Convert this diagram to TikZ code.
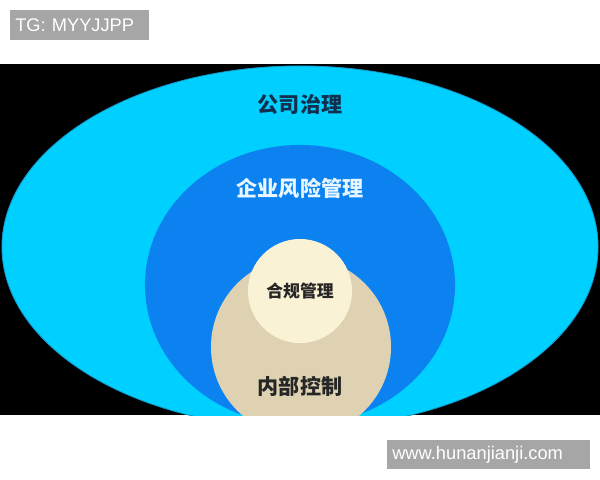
\documentclass[tikz,border=0pt]{standalone}
\usepackage{fontspec}
\setmainfont{Liberation Sans}
\newfontfamily\cjk{Noto Sans CJK SC}
\usetikzlibrary{shapes.geometric, positioning}
\definecolor{govcyan}{RGB}{0,208,255}
\definecolor{govedge}{RGB}{20,150,200}
\definecolor{ermblue}{RGB}{12,130,240}
\definecolor{icbeige}{RGB}{222,210,178}
\definecolor{complight}{RGB}{250,242,212}
\definecolor{navytext}{RGB}{18,48,78}
\definecolor{taggray}{RGB}{166,166,166}

\begin{document}
\begin{tikzpicture}[x=0.025cm, y=-0.025cm,
        layer/.style={ellipse, inner sep=0pt},
        lbl/.style={font=\cjk\bfseries\fontsize{15}{15}\selectfont, inner sep=0pt},
        tag/.style={fill=taggray, text=white, font=\fontsize{13}{13}\selectfont, inner xsep=0.125cm, inner ysep=0pt, minimum height=0.75cm, align=left}
    ]
        \useasboundingbox (0,0) rectangle (600,480);
        \begin{scope}
            \clip (0,64) rectangle (600,415);
            \fill[black] (0,64) rectangle (600,415);
            \node[layer, fill=govcyan, draw=govedge, line width=0.6pt, minimum width=14.9cm, minimum height=9.05cm] (gov) at (300,247) {};
            \node[layer, fill=ermblue, minimum width=7.75cm, minimum height=7cm] (erm) at (300,285) {};
            \node[circle, inner sep=0pt, fill=icbeige, minimum size=4.5cm] (ic) at (301,347) {};
            \node[circle, inner sep=0pt, fill=complight, minimum size=2.6cm] (comp) at (300,291) {};
        \end{scope}
        \node[lbl, text=navytext] (govtext) at (300,105) {公司治理};
        \node[lbl, text={rgb,255:red,232;green,246;blue,255}] (ermtext) at (300,188) {企业风险管理};
        \node[lbl, font=\cjk\bfseries\fontsize{12}{12}\selectfont, text=black!85] (comptext) at (300,291) {合规管理};
        \node[lbl, text=black!85] (ictext) at (300,386) {内部控制};
        \node[tag, text width=3.225cm, anchor=north west] (tg) at (10,10) {TG: MYYJJPP};
        \node[tag, text width=4.825cm, minimum height=0.725cm, anchor=north west] (site) at (387,440) {www.hunanjianji.com};
    \end{tikzpicture}
\end{document}
